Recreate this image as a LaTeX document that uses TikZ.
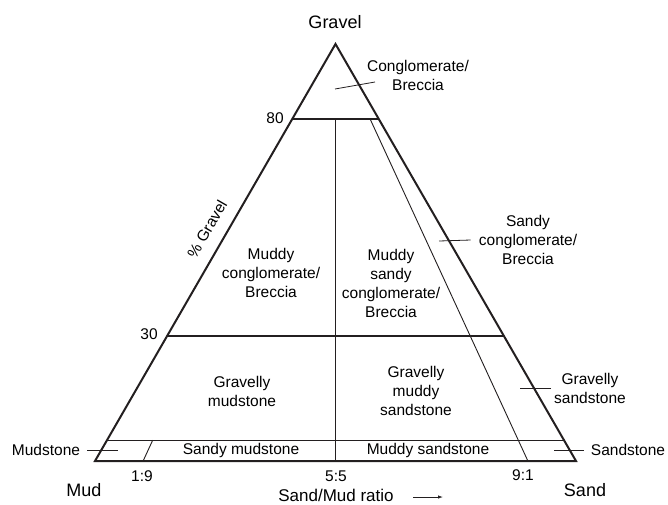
\documentclass[tikz,border=0pt]{standalone}
\usepackage{fontspec}
\setmainfont{Liberation Sans}
\usepackage{tikz}
\usetikzlibrary{calc}
\usetikzlibrary{arrows.meta}
\definecolor{lineColor}{HTML}{231F20}

\begin{document}
\begin{tikzpicture}[
		x=1pt, y=-1pt,
		field/.style={font=\fontsize{15.5}{19}\selectfont, align=center, inner sep=0pt},
		corner/.style={font=\fontsize{18}{21}\selectfont, inner sep=0pt},
		axislbl/.style={font=\fontsize{17}{20}\selectfont, inner sep=0pt},
		outline/.style={draw=lineColor, line width=2pt, line join=miter},
		divider/.style={draw=lineColor, line width=1.3pt},
		ratioline/.style={draw=lineColor, line width=0.9pt},
		leader/.style={draw=lineColor, line width=0.8pt}
		]
		\useasboundingbox (0,0) rectangle (668,504);

		% Corners of the triangle
		\coordinate (mud) at (95,461);
		\coordinate (sand) at (576,461);
		\coordinate (gravel) at (335.5,44);

		% Points on the base and the gravel lines
		\coordinate (r19) at ($(mud)!0.1!(sand)$);
		\coordinate (r55) at ($(mud)!0.5!(sand)$);
		\coordinate (r91) at ($(mud)!0.9!(sand)$);
		\coordinate (g80l) at ($(mud)!0.82!(gravel)$);
		\coordinate (g80r) at ($(sand)!0.82!(gravel)$);
		\coordinate (g30l) at ($(mud)!0.3!(gravel)$);
		\coordinate (g30r) at ($(sand)!0.3!(gravel)$);
		\coordinate (g5l) at ($(mud)!0.05!(gravel)$);
		\coordinate (g5r) at ($(sand)!0.05!(gravel)$);
		\coordinate (r19t) at ($(r19)!0.05!(gravel)$);
		\coordinate (r55t) at ($(r55)!0.82!(gravel)$);
		\coordinate (r91t) at ($(r91)!0.82!(gravel)$);

		% Field boundaries
		\draw[divider] (g80l) -- (g80r);
		\draw[divider] (g30l) -- (g30r);
		\draw[divider] (g5l) -- (g5r);
		\draw[divider] (r55) -- (r55t);
		\draw[ratioline] (r19) -- (r19t);
		\draw[ratioline] (r91) -- (r91t);
		\draw[outline] (mud) -- (sand) -- (gravel) -- cycle;

		% Corner and axis labels
		\node[corner] (gravelLbl) at (335,22) {Gravel};
		\node[corner] (mudLbl) at (84,490) {Mud};
		\node[corner] (sandLbl) at (585,490) {Sand};
		\node[axislbl] (ratioLbl) at (336,495) {Sand/Mud ratio};
		\coordinate (ratioTail) at (413,497);
		\coordinate (ratioTip) at (443,497);
		\draw[leader, -{Latex[length=5pt,width=3.5pt]}] (ratioTail) -- (ratioTip);
		\node[field, rotate=60] (pctGravel) at (207,229) {\% Gravel};
		\node[field] (p80) at (275,118) {80};
		\node[field] (p30) at (149,334) {30};
		\node[field] (r19Lbl) at (142,476) {1:9};
		\node[field] (r55Lbl) at (336,476) {5:5};
		\node[field] (r91Lbl) at (523,475) {9:1};

		% Fields inside
		\node[field] (muddyConglom) at (271,273) {Muddy\\conglomerate/\\Breccia};
		\node[field] (muddySandyConglom) at (391,283) {Muddy\\sandy\\conglomerate/\\Breccia};
		\node[field] (gravMud) at (242,391) {Gravelly\\mudstone};
		\node[field] (gravMuddySand) at (416,391) {Gravelly\\muddy\\sandstone};
		\node[field] (sandyMud) at (241,450) {Sandy mudstone};
		\node[field] (muddySand) at (428,450) {Muddy sandstone};

		% Fields outside, with leaders
		\node[field] (conglom) at (418,75) {Conglomerate/\\Breccia};
		\coordinate (conglomIn) at (335,89);
		\coordinate (conglomTip) at (375,82);
		\draw[leader] (conglomIn) -- (conglomTip);
		\node[field] (sandyConglom) at (528,240) {Sandy\\conglomerate/\\Breccia};
		\coordinate (sandyConglomIn) at (439,241);
		\draw[leader] ([xshift=-8pt]sandyConglom.west) -- (sandyConglomIn);
		\node[field] (gravSand) at (590,388) {Gravelly\\sandstone};
		\coordinate (gravSandIn) at (520,388);
		\draw[leader] ([xshift=-3pt]gravSand.west) -- (gravSandIn);
		\node[field] (mudstone) at (46,450) {Mudstone};
		\coordinate (mudstoneIn) at (118,450);
		\draw[leader] ([xshift=7pt]mudstone.east) -- (mudstoneIn);
		\node[field] (sandstone) at (628,450) {Sandstone};
		\coordinate (sandstoneIn) at (554,450);
		\draw[leader] ([xshift=-7pt]sandstone.west) -- (sandstoneIn);
	\end{tikzpicture}
\end{document}
